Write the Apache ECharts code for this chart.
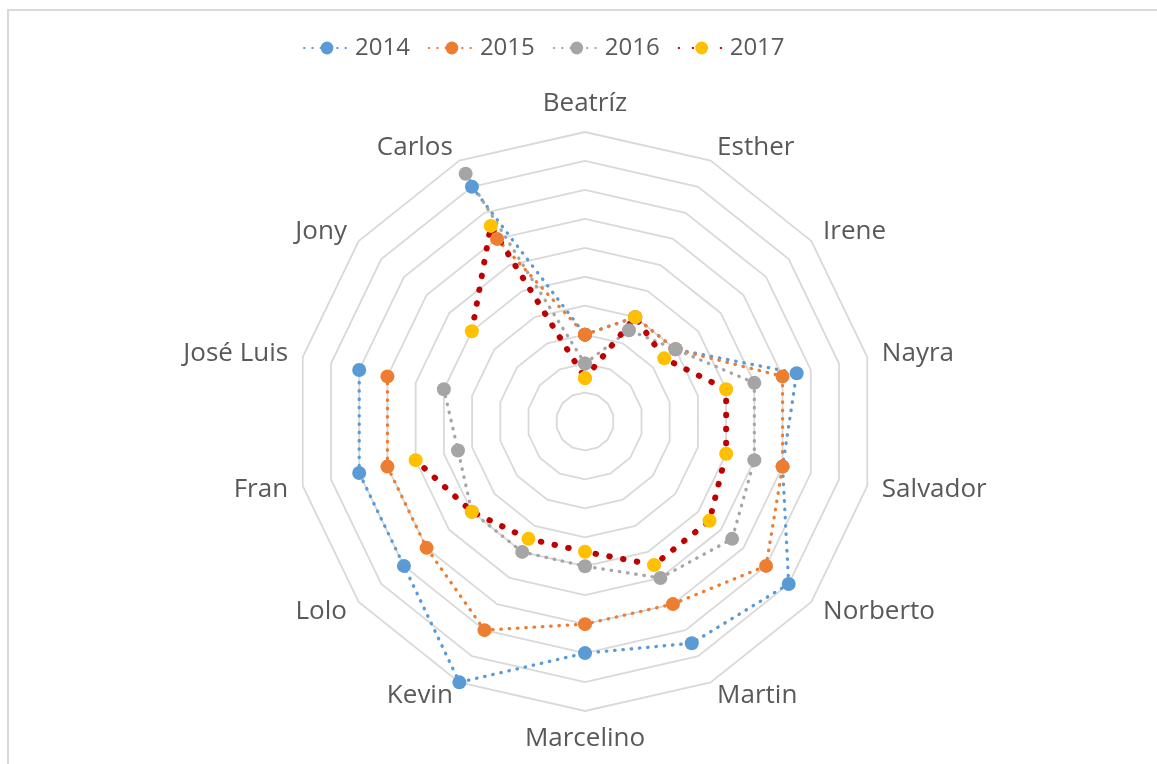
<!DOCTYPE html>
<html>
<head>
<meta charset="utf-8">
<script src="https://cdn.jsdelivr.net/npm/echarts@6/dist/echarts.min.js"></script>
<style>
  html, body { margin: 0; padding: 0; background: #fff; }
  #chart-container { width: 1157px; height: 764px; }
</style>
</head>
<body>
<div id="chart-container"></div>
<script>
// nombres en el sentido de las agujas del reloj, empezando arriba
var names = ['Beatríz', 'Esther', 'Irene', 'Nayra', 'Salvador', 'Norberto', 'Martin',
  'Marcelino', 'Kevin', 'Lolo', 'Fran', 'José Luis', 'Jony', 'Carlos'];
var years = ['2014', '2015', '2016', '2017'];

// null = celda vacía (hueco en la línea)
var data2014 = [3, 4, 4, 7.5, 7, 9, 8.5, 8, 10, 8, 8, 8, null, 9];
var data2015 = [3, 4, 4, 7, 7, 8, 7, 7, 8, 7, 7, 7, null, 7];
var data2016 = [2, 3.5, 4, 6, 6, 6.5, 6, 5, 5, 5, 4.5, 5, null, 9.5];
var data2017 = [1.5, 4, 3.5, 5, 5, 5.5, 5.5, 4.5, 4.5, 5, 6, null, 5, 7.5];

var maxValue = 10;
var center = [585, 421.5];
var radius = 289.5;

// radar solo dibuja la rejilla y los nombres; va en sentido antihorario
var indicator = [names[0]].concat(names.slice(1).reverse()).map(function (n) {
  return { name: n, min: 0, max: maxValue };
});

// puntos [valor, índice]; se repite el primero para cerrar el polígono
function toPolar(values) {
  var pts = values.map(function (v, i) {
    return [v == null ? '-' : v, i];
  });
  pts.push([values[0] == null ? '-' : values[0], values.length]);
  return pts;
}

function makeSeries(name, values, lineColor, markerColor, width, dash) {
  return {
    name: name,
    type: 'line',
    coordinateSystem: 'polar',
    data: toPolar(values),
    symbol: 'circle',
    symbolSize: 14,
    connectNulls: false,
    clip: false,
    itemStyle: { color: markerColor },
    lineStyle: { color: lineColor, width: width, type: dash, cap: 'round' }
  };
}

var myChart = echarts.init(document.getElementById('chart-container'));
myChart.setOption({
  animation: false,
  backgroundColor: '#ffffff',
  graphic: [{
    type: 'rect',
    z: -10,
    shape: { x: 8, y: 10, width: 1200, height: 800 },
    style: { fill: 'none', stroke: '#d9d9d9', lineWidth: 2 }
  }],
  legend: {
    data: years,
    left: 298,
    top: 31,
    itemWidth: 46,
    itemHeight: 16,
    itemGap: 18,
    textStyle: { fontSize: 24, color: '#595959', fontFamily: 'Open Sans' }
  },
  radar: {
    center: center,
    radius: radius,
    startAngle: 90,
    shape: 'polygon',
    splitNumber: 10,
    indicator: indicator,
    nameGap: 15,
    axisName: { color: '#595959', fontSize: 26, fontFamily: 'Open Sans' },
    axisLine: { show: false },
    splitLine: { lineStyle: { color: '#d9d9d9', width: 1.8 } },
    splitArea: { show: false },
    axisTick: { show: false },
    axisLabel: { show: false }
  },
  polar: { center: center, radius: radius },
  angleAxis: { type: 'value', min: 0, max: names.length, startAngle: 90, clockwise: true, show: false },
  radiusAxis: { type: 'value', min: 0, max: maxValue, show: false },
  series: [
    makeSeries('2014', data2014, '#5B9BD5', '#5B9BD5', 3.3, [0.5, 7.8]),
    makeSeries('2015', data2015, '#ED7D31', '#ED7D31', 3.3, [0.5, 7.8]),
    makeSeries('2016', data2016, '#A5A5A5', '#A5A5A5', 3.3, [0.5, 7.8]),
    makeSeries('2017', data2017, '#C00000', '#FFC000', 6, [0.5, 13.5])
  ]
});
</script>
</body>
</html>
